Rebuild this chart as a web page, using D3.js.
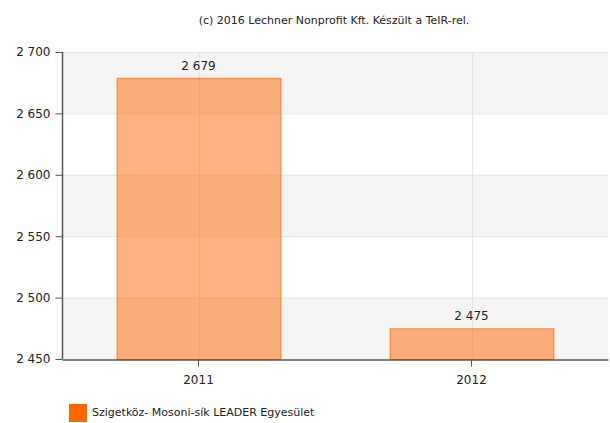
<!DOCTYPE html>
<html><head><meta charset="utf-8">
<script src="https://cdn.jsdelivr.net/npm/d3@7"></script>
<style>body{margin:0;background:#fff;}svg{display:block;font-family:"DejaVu Sans",Verdana,sans-serif;}</style>
</head><body>
<svg id="c" width="610" height="423"></svg>
<script>
const categories = ["2011", "2012"];
const values = [2679, 2475];
const yTicks = [2450, 2500, 2550, 2600, 2650, 2700];
const seriesName = "Szigetköz- Mosoni-sík LEADER Egyesület";
const title = "(c) 2016 Lechner Nonprofit Kft. Készült a TeIR-rel.";

const svg = d3.select("#c");
const m = {l: 62, r: 2, t: 52, b: 64};
const W = 610, H = 423;
const x = d3.scaleBand().domain(categories).range([m.l, W - m.r]).paddingInner(0.4).paddingOuter(0.2);
const y = d3.scaleLinear().domain([2450, 2700]).range([H - m.b, m.t]);
const fmt = v => d3.format(",")(v).replace(/,/g, " ");

// bands
for (let i = 0; i < yTicks.length - 1; i++) {
  if ((yTicks.length - 2 - i) % 2 === 0) {
    svg.append("rect").attr("x", m.l).attr("width", W - m.r - m.l)
      .attr("y", y(yTicks[i + 1])).attr("height", y(yTicks[i]) - y(yTicks[i + 1]))
      .attr("fill", "#f5f5f5");
  }
}
// horizontal grid
svg.append("g").selectAll("line").data(yTicks.slice(1)).join("line")
  .attr("x1", m.l).attr("x2", W - m.r).attr("y1", d => y(d) + 0.5).attr("y2", d => y(d) + 0.5)
  .attr("stroke", "#e6e6e6");
// vertical grid
svg.append("g").selectAll("line").data(categories).join("line")
  .attr("x1", d => Math.round(x(d) + x.bandwidth() / 2) + 0.5).attr("x2", d => Math.round(x(d) + x.bandwidth() / 2) + 0.5)
  .attr("y1", m.t).attr("y2", H - m.b).attr("stroke", "#e6e6e6");

// bars
svg.append("g").selectAll("rect").data(values).join("rect")
  .attr("x", (d, i) => x(categories[i]) + 0.5).attr("width", x.bandwidth())
  .attr("y", d => y(d) + 0.5).attr("height", d => y(2450) - y(d))
  .attr("fill", "rgba(255,102,0,0.5)").attr("stroke", "rgba(255,102,0,0.75)").attr("stroke-width", 1);

// value labels
svg.append("g").selectAll("text").data(values).join("text")
  .attr("x", (d, i) => x(categories[i]) + x.bandwidth() / 2).attr("y", d => y(d) - 8)
  .attr("text-anchor", "middle").attr("font-size", 12).attr("fill", "#222").text(d => fmt(d));

// axes
const ya = d3.axisLeft(y).tickValues(yTicks).tickSize(7).tickFormat(fmt);
const gy = svg.append("g").attr("transform", `translate(${m.l + 0.5},0)`).call(ya);
gy.select(".domain").attr("stroke", "#555").attr("stroke-width", 1.5).attr("d", `M0,${m.t}V${H - m.b}`);
gy.selectAll(".tick line").attr("stroke", "#555");
gy.selectAll("text").attr("font-size", 12).attr("fill", "#222").attr("font-family", "DejaVu Sans").attr("dx", -2);

const xa = d3.axisBottom(x).tickSize(7).tickSizeOuter(0);
const gx = svg.append("g").attr("transform", `translate(0,${H - m.b + 0.5})`).call(xa);
gx.select(".domain").attr("stroke", "#555").attr("stroke-width", 1.5);
gx.selectAll(".tick line").attr("stroke", "#555");
gx.selectAll("text").attr("font-size", 12).attr("fill", "#222").attr("font-family", "DejaVu Sans").attr("dy", "1.2em");

// title
svg.append("text").attr("x", 334).attr("y", 24).attr("text-anchor", "middle")
  .attr("font-size", 11).attr("fill", "#222").text(title);

// legend
svg.append("rect").attr("x", 69).attr("y", 404).attr("width", 18).attr("height", 18).attr("fill", "#ff6600");
svg.append("text").attr("x", 92).attr("y", 416).attr("font-size", 11).attr("fill", "#222").text(seriesName);
</script>
</body></html>
